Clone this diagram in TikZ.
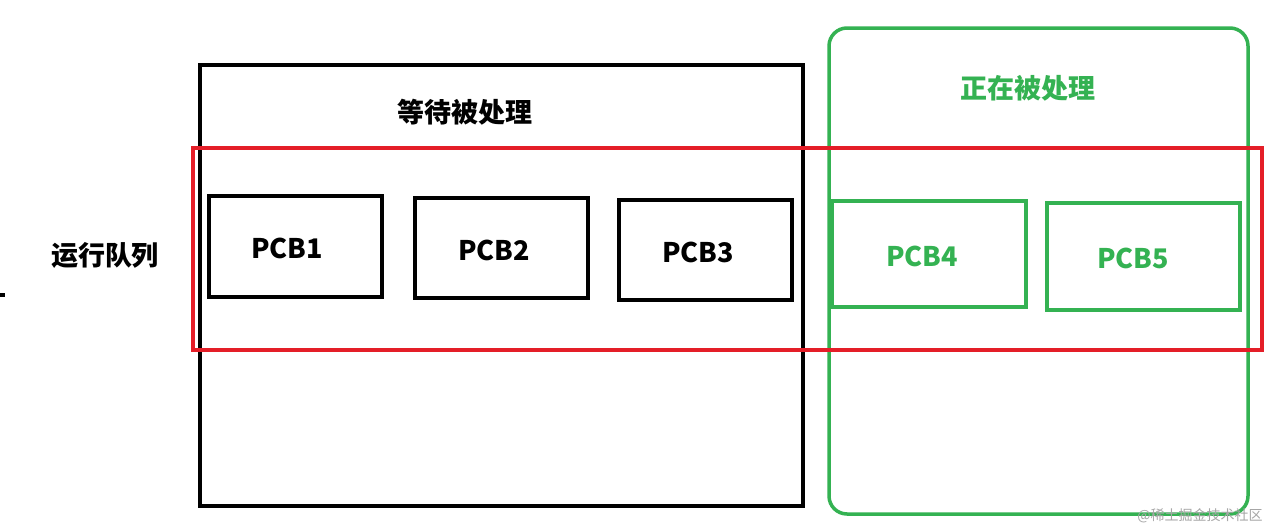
\documentclass[tikz,border=0pt]{standalone}
\usepackage{fontspec}
\setmainfont{Noto Sans CJK SC}
\definecolor{gr}{RGB}{52,178,82}
\definecolor{rd}{RGB}{228,30,40}
\tikzset{x=1pt,y=-1pt,
 pcb/.style={draw,line width=3.5pt,minimum width=#1},
 lbl/.style={font=\bfseries\fontsize{27}{30}\selectfont}}
\begin{document}
\begin{tikzpicture}
\useasboundingbox[fill=white] (0,0) rectangle (1286,531);
\draw[line width=3.5pt] (200,65) rectangle (803,506);
\draw[gr,line width=3.5pt,rounded corners=18pt] (829,28) rectangle (1248,514);
\draw[rd,line width=3.5pt] (193,148) rectangle (1262,350);
\node[lbl] (t1) at (465,112) {等待被处理};
\node[lbl,text=gr] (t2) at (1028,88) {正在被处理};
\node[lbl] (t3) at (105,255) {运行队列};
\draw[line width=3.5pt] (0,295) -- (5,295);
\draw[line width=3.5pt] (209,196) rectangle (382,297);
\node[lbl] (p1) at (287,248) {PCB1};
\draw[line width=3.5pt] (415,198) rectangle (588,298);
\node[lbl] (p2) at (494,250) {PCB2};
\draw[line width=3.5pt] (619,200) rectangle (792,300);
\node[lbl] (p3) at (698,252) {PCB3};
\draw[gr,line width=3.5pt] (832,201) rectangle (1026,307);
\node[lbl,text=gr] (p4) at (922,256) {PCB4};
\draw[gr,line width=3.5pt] (1047,203) rectangle (1240,310);
\node[lbl,text=gr] (p5) at (1133,258) {PCB5};
\node[text=gray!70,font=\fontsize{14}{16}\selectfont] (w) at (1200,516) {@稀土掘金技术社区};
\end{tikzpicture}
\end{document}
